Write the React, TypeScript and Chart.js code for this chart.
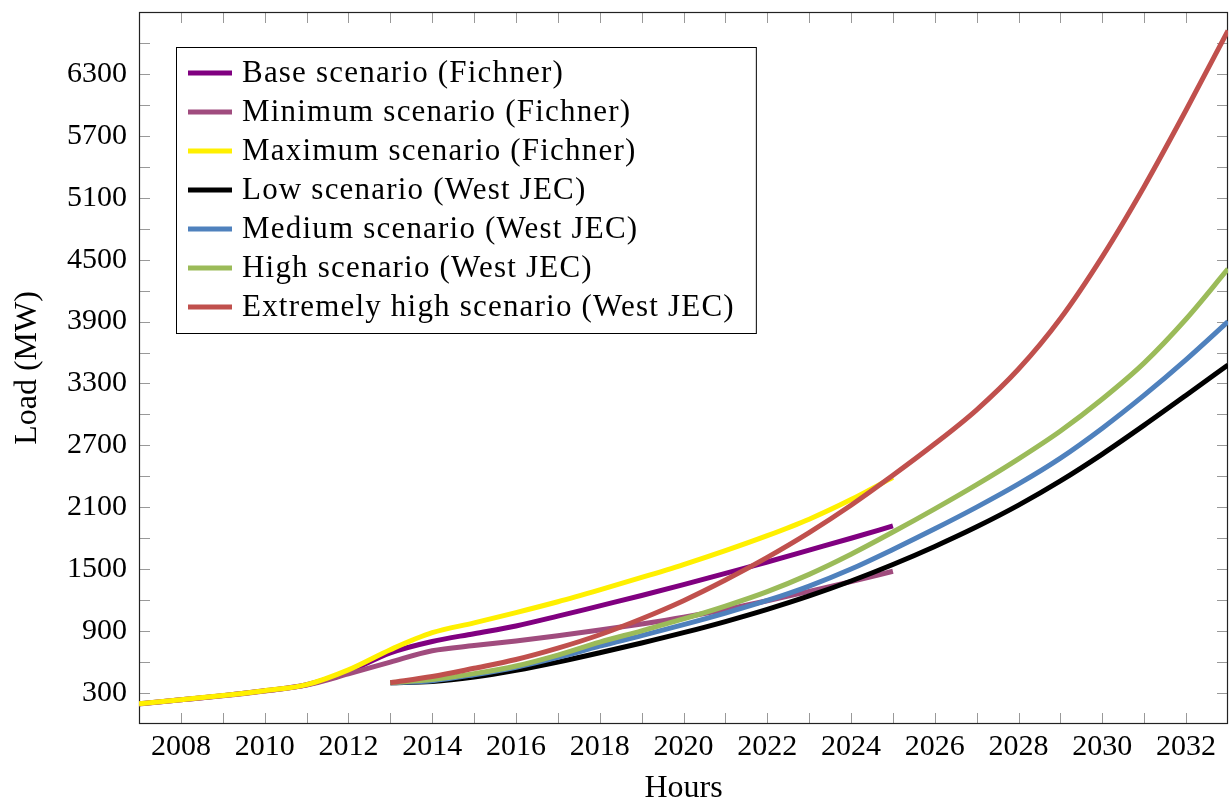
import { useEffect, useRef } from 'react';
import { Chart, registerables } from 'chart.js';

Chart.register(...registerables);

const FONT = '"Liberation Serif", "Times New Roman", serif';
const TICK_SIZE = 30;
const TITLE_SIZE = 32;
const LEGEND_SIZE = 31;
const LINE_WIDTH = 5;

// Years covered by each study
const fichnerYears = [2007, 2008, 2009, 2010, 2011, 2012, 2013, 2014, 2015, 2016, 2017, 2018, 2019, 2020, 2021, 2022, 2023, 2024, 2025];
const westJecYears = [2013, 2014, 2015, 2016, 2017, 2018, 2019, 2020, 2021, 2022, 2023, 2024, 2025, 2026, 2027, 2028, 2029, 2030, 2031, 2032, 2033];

// Load in MW, Fichner scenarios
const baseFichner = [195, 235, 275, 322, 380, 510, 690, 800, 875, 950, 1045, 1145, 1245, 1350, 1460, 1570, 1685, 1800, 1920];
const minimumFichner = [194, 234, 274, 320, 377, 485, 600, 710, 760, 805, 855, 910, 970, 1035, 1110, 1195, 1285, 1380, 1480];
const maximumFichner = [196, 236, 276, 323, 382, 525, 720, 885, 980, 1080, 1185, 1300, 1420, 1545, 1680, 1825, 1985, 2175, 2390];

// Load in MW, West JEC scenarios
const lowWestJec = [400, 412, 455, 520, 600, 690, 785, 885, 993, 1111, 1241, 1386, 1546, 1721, 1911, 2121, 2356, 2616, 2896, 3186, 3480];
const mediumWestJec = [400, 420, 478, 550, 645, 755, 857, 963, 1075, 1197, 1337, 1502, 1692, 1892, 2102, 2327, 2577, 2867, 3187, 3532, 3900];
const highWestJec = [400, 430, 488, 562, 668, 793, 903, 1018, 1143, 1283, 1450, 1645, 1860, 2085, 2320, 2570, 2840, 3150, 3500, 3925, 4410];
const extremeWestJec = [400, 460, 540, 625, 735, 865, 1020, 1195, 1395, 1615, 1855, 2120, 2410, 2715, 3045, 3440, 3930, 4530, 5210, 5950, 6720];

// Axis settings
const xMin = 2007;
const xMax = 2033;
const yMin = 0;
const yMax = 6900;
const yStep = 300;

const seriesLabels = [
  'Base scenario (Fichner)',
  'Minimum scenario (Fichner)',
  'Maximum scenario (Fichner)',
  'Low scenario (West JEC)',
  'Medium scenario (West JEC)',
  'High scenario (West JEC)',
  'Extremely high scenario (West JEC)',
];
const seriesColors = ['#800080', '#A04C7E', '#FFF000', '#000000', '#4F81BD', '#9BBB59', '#C0504D'];
const seriesYears = [fichnerYears, fichnerYears, fichnerYears, westJecYears, westJecYears, westJecYears, westJecYears];
const seriesValues = [baseFichner, minimumFichner, maximumFichner, lowWestJec, mediumWestJec, highWestJec, extremeWestJec];

const toPoints = (xs: number[], ys: number[]) => xs.map((x, i) => ({ x, y: ys[i] }));

// Frame around the plot with inward tick marks on all four sides
const framePlugin = {
  id: 'frameTicks',
  beforeDatasetsDraw(chart: any) {
    const { ctx, chartArea } = chart;
    const { left, right, top, bottom } = chartArea;
    const xs = chart.scales.x;
    const ys = chart.scales.y;
    const len = 11;
    ctx.save();
    ctx.strokeStyle = '#999';
    ctx.lineWidth = 1;
    ctx.beginPath();
    for (let yr = xMin + 1; yr < xMax; yr++) {
      const px = Math.round(xs.getPixelForValue(yr)) + 0.5;
      ctx.moveTo(px, bottom);
      ctx.lineTo(px, bottom - len);
      ctx.moveTo(px, top);
      ctx.lineTo(px, top + len);
    }
    for (let v = yMin + yStep; v < yMax; v += yStep) {
      const py = Math.round(ys.getPixelForValue(v)) + 0.5;
      ctx.moveTo(left, py);
      ctx.lineTo(left + len, py);
      ctx.moveTo(right, py);
      ctx.lineTo(right - len, py);
    }
    ctx.stroke();
    ctx.strokeStyle = '#222';
    ctx.lineWidth = 1.2;
    ctx.strokeRect(left + 0.5, top + 0.5, right - left - 1, bottom - top - 1);
    ctx.restore();
  },
};

// Boxed legend inside the upper-left corner of the plot
const boxLegendPlugin = {
  id: 'boxLegend',
  afterDraw(chart: any) {
    const { ctx, chartArea } = chart;
    const datasets = chart.data.datasets;
    const boxLeft = chartArea.left + 37;
    const boxTop = chartArea.top + 35;
    const rowH = 39;
    const firstRow = boxTop + 26;
    const lineStart = boxLeft + 12;
    const lineEnd = boxLeft + 56;
    const textX = boxLeft + 66;
    ctx.save();
    ctx.font = `${LEGEND_SIZE}px ${FONT}`;
    (ctx as any).letterSpacing = '1.2px';
    let maxW = 0;
    datasets.forEach((d: any) => {
      maxW = Math.max(maxW, ctx.measureText(d.label).width);
    });
    const boxW = textX - boxLeft + maxW + 21;
    const boxH = rowH * datasets.length + 13;
    ctx.fillStyle = '#fff';
    ctx.fillRect(boxLeft, boxTop, boxW, boxH);
    ctx.strokeStyle = '#000';
    ctx.lineWidth = 1;
    ctx.strokeRect(boxLeft + 0.5, boxTop + 0.5, boxW, boxH);
    datasets.forEach((d: any, i: number) => {
      const y = firstRow + i * rowH;
      ctx.strokeStyle = d.borderColor;
      ctx.lineWidth = LINE_WIDTH;
      ctx.beginPath();
      ctx.moveTo(lineStart, y);
      ctx.lineTo(lineEnd, y);
      ctx.stroke();
      ctx.fillStyle = '#000';
      ctx.textBaseline = 'middle';
      ctx.textAlign = 'left';
      ctx.fillText(d.label, textX, y + 1);
    });
    ctx.restore();
  },
};

export default function App() {
  const canvasRef = useRef<HTMLCanvasElement>(null);

  useEffect(() => {
    const canvas = canvasRef.current;
    if (!canvas) return;
    const n = seriesLabels.length;
    const datasets = seriesLabels.map((label, i) => ({
      label,
      data: toPoints(seriesYears[i], seriesValues[i]),
      borderColor: seriesColors[i],
      backgroundColor: seriesColors[i],
      borderWidth: LINE_WIDTH,
      pointRadius: 0,
      cubicInterpolationMode: 'monotone' as const,
      fill: false,
      order: n - i,
    }));
    const tickFont = { family: FONT, size: TICK_SIZE };
    const chart = new Chart(canvas, {
      type: 'line',
      data: { datasets },
      options: {
        animation: false,
        responsive: false,
        devicePixelRatio: 1,
        layout: { padding: { top: 12, right: 1, left: 0, bottom: 0 }, autoPadding: false },
        plugins: { legend: { display: false }, tooltip: { enabled: false } },
        scales: {
          x: {
            type: 'linear',
            min: xMin,
            max: xMax,
            grid: { display: false, drawTicks: false },
            border: { display: false },
            ticks: {
              stepSize: 1,
              autoSkip: false,
              maxRotation: 0,
              padding: 5,
              color: '#000',
              font: tickFont,
              callback: (v: any) => (Number(v) % 2 === 0 ? String(v) : ''),
            },
            title: {
              display: true,
              text: 'Hours',
              color: '#000',
              font: { family: FONT, size: TITLE_SIZE, lineHeight: 0.8 },
              padding: { top: 1, bottom: 0 },
            },
            afterFit: (s: any) => {
              s.height = 77;
              s.paddingLeft = 0;
              s.paddingRight = 0;
            },
          },
          y: {
            type: 'linear',
            min: yMin,
            max: yMax,
            grid: { display: false, drawTicks: false },
            border: { display: false },
            ticks: {
              stepSize: yStep,
              autoSkip: false,
              padding: 12,
              color: '#000',
              font: tickFont,
              callback: (v: any) => {
                const n = Number(v);
                return n < yMax && (n - 300) % 600 === 0 ? String(n) : '';
              },
            },
            title: {
              display: true,
              text: 'Load (MW)',
              color: '#000',
              font: { family: FONT, size: TITLE_SIZE, lineHeight: 1.2 },
              padding: { top: 8, bottom: 0 },
            },
            afterFit: (s: any) => {
              s.width = 139;
              s.paddingTop = 0;
              s.paddingBottom = 0;
            },
          },
        },
      },
      plugins: [framePlugin, boxLegendPlugin],
    });
    return () => chart.destroy();
  }, []);

  return (
    <div style={{ position: 'fixed', left: 0, top: 0, width: 1229, height: 801, background: '#fff' }}>
      <canvas ref={canvasRef} width={1229} height={801} style={{ display: 'block', width: 1229, height: 801 }} />
    </div>
  );
}
